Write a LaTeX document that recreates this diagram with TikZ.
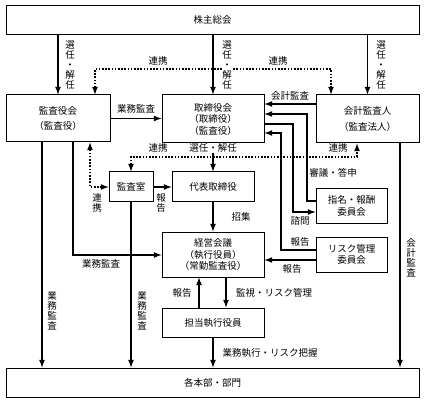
\documentclass[tikz,border=0pt]{standalone}
\usepackage{fontspec}
\setmainfont{Noto Sans CJK JP}
\usepackage{tikz}
\usetikzlibrary{arrows}
\usetikzlibrary{positioning}

\tikzset{
  box/.style={rectangle, draw=black, line width=1pt, inner sep=0pt, align=center,
    font=\fontsize{9.5}{11.5}\selectfont},
  lbl/.style={fill=white, inner sep=0.5pt, align=center, font=\fontsize{9.5}{10}\selectfont},
  arr/.style={-latex, line width=1.6pt},
  dotarr/.style={latex-latex, line width=1.6pt, dash pattern=on 1.6pt off 1.6pt},
}

\begin{document}
\begin{tikzpicture}[x=1pt, y=-1pt]
\useasboundingbox (0,0) rectangle (425,403);
\node [box, minimum width=413pt, minimum height=29pt] (soukai) at (212.5,20) {株主総会};
\node [box, minimum width=104pt, minimum height=47pt] (kansayaku) at (58,118.5) {監査役会\\[4pt]（監査役）};
\node [box, minimum width=102pt, minimum height=48pt] (torishimari) at (213,119) {取締役会\\（取締役）\\（監査役）};
\node [box, minimum width=103pt, minimum height=48pt] (kaikei) at (367.5,119) {会計監査人\\[4pt]（監査法人）};
\node [box, minimum width=44pt, minimum height=30pt] (kansashitsu) at (131,187) {監査室};
\node [box, minimum width=82pt, minimum height=30pt] (daihyo) at (213,187) {代表取締役};
\node [box, minimum width=71pt, minimum height=34pt] (shimei) at (351.5,206) {指名・報酬\\委員会};
\node [box, minimum width=102pt, minimum height=45pt] (keiei) at (213,254.5) {経営会議\\（執行役員）\\（常勤監査役）};
\node [box, minimum width=71pt, minimum height=35pt] (risk) at (351.5,254.5) {リスク管理\\委員会};
\node [box, minimum width=102pt, minimum height=29pt] (tanto) at (213,322.5) {担当執行役員};
\node [box, minimum width=413pt, minimum height=29pt] (honbu) at (212.5,382.5) {各本部・部門};

\coordinate (t1) at (95,69);
\coordinate (t2) at (331,69);
\coordinate (k1) at (300,104);
\coordinate (a1) at (307,114);
\coordinate (b1) at (307,201);
\coordinate (a2) at (293,124);
\coordinate (b2) at (293,212);
\coordinate (a3) at (281,133);
\coordinate (b3) at (281,250);
\coordinate (c1) at (290,260);
\coordinate (d1) at (131,157);
\coordinate (d2) at (357,157);
\coordinate (e1) at (90,187);
\coordinate (f1) at (73,255);
\coordinate (g1) at (42,300);
\coordinate (g2) at (400,300);
\coordinate (h1) at (226,292);
\coordinate (h2) at (199,292);

\draw [arr] (kansayaku.north |- soukai.south) -- (kansayaku.north);
\draw [arr] (torishimari.north |- soukai.south) -- (torishimari.north);
\draw [arr] (kaikei.north |- soukai.south) -- (kaikei.north);
\draw [dotarr] (kansayaku.north -| t1) -- (t1) -- (t2) -- (kaikei.north -| t2);
\draw [arr] (kansayaku.east) -- (kansayaku.east -| torishimari.west);
\draw [arr] (kaikei.west |- k1) -- (torishimari.east |- k1);
\draw [arr] (shimei.west |- b1) -- (b1) -- (a1) -- (torishimari.east |- a1);
\draw [arr] (torishimari.east |- a2) -- (a2) -- (b2) -- (shimei.west |- b2);
\draw [arr] (risk.west |- b3) -- (b3) -- (a3) -- (torishimari.east |- a3);
\draw [arr] (risk.west |- c1) -- (keiei.east |- c1);
\draw [arr] (torishimari) -- (daihyo);
\draw [dotarr] (kansashitsu.north -| d1) -- (d1) -- (d2) -- (kaikei.south -| d2);
\draw [dotarr] (kansayaku.south -| e1) -- (e1) -- (kansashitsu.west |- e1);
\draw [arr] (kansashitsu) -- (daihyo);
\draw [arr] (daihyo) -- (keiei);
\draw [arr] (kansayaku.south -| f1) -- (f1) -- (keiei.west |- f1);
\draw [arr] (kansayaku.south -| g1) -- (honbu.north -| g1);
\draw [arr] (kansashitsu.south) -- (honbu.north -| kansashitsu.south);
\draw [arr] (kaikei.south -| g2) -- (honbu.north -| g2);
\draw [arr] (keiei.south -| h1) -- (tanto.north -| h1);
\draw [arr] (tanto.north -| h2) -- (keiei.south -| h2);
\draw [arr] (tanto.south) -- (honbu.north -| tanto.south);

\node [lbl] (s1) at (70,65) {選\\任\\・\\解\\任};
\node [lbl] (s2) at (227,65) {選\\任\\・\\解\\任};
\node [lbl] (s3) at (381,65) {選\\任\\・\\解\\任};
\node [lbl] (r1) at (158,61) {連携};
\node [lbl] (r2) at (278,61) {連携};
\node [lbl] (g1l) at (136,109) {業務監査};
\node [lbl] (k1l) at (290,96) {会計監査};
\node [lbl] (s4) at (213,148) {選任・解任};
\node [lbl] (r3) at (158,148) {連携};
\node [lbl] (r4) at (338,148) {連携};
\node [lbl] (shingi) at (333,173) {審議・答申};
\node [lbl] (shimon) at (300,221) {諮問};
\node [lbl] (h1l) at (300,242) {報告};
\node [lbl] (h2l) at (292,269) {報告};
\node [lbl] (r5) at (97,203) {連\\携};
\node [lbl] (h3l) at (161,203) {報\\告};
\node [lbl] (shoshu) at (241,217) {招集};
\node [lbl] (g2l) at (101,264) {業務監査};
\node [lbl] (g3l) at (52,311) {業\\務\\監\\査};
\node [lbl] (g4l) at (142,311) {業\\務\\監\\査};
\node [lbl] (k2l) at (411,258) {会\\計\\監\\査};
\node [lbl] (h4l) at (182,293) {報告};
\node [lbl] (kanshi) at (274,293) {監視・リスク管理};
\node [lbl] (gyomu) at (270,353) {業務執行・リスク把握};
\end{tikzpicture}
\end{document}
